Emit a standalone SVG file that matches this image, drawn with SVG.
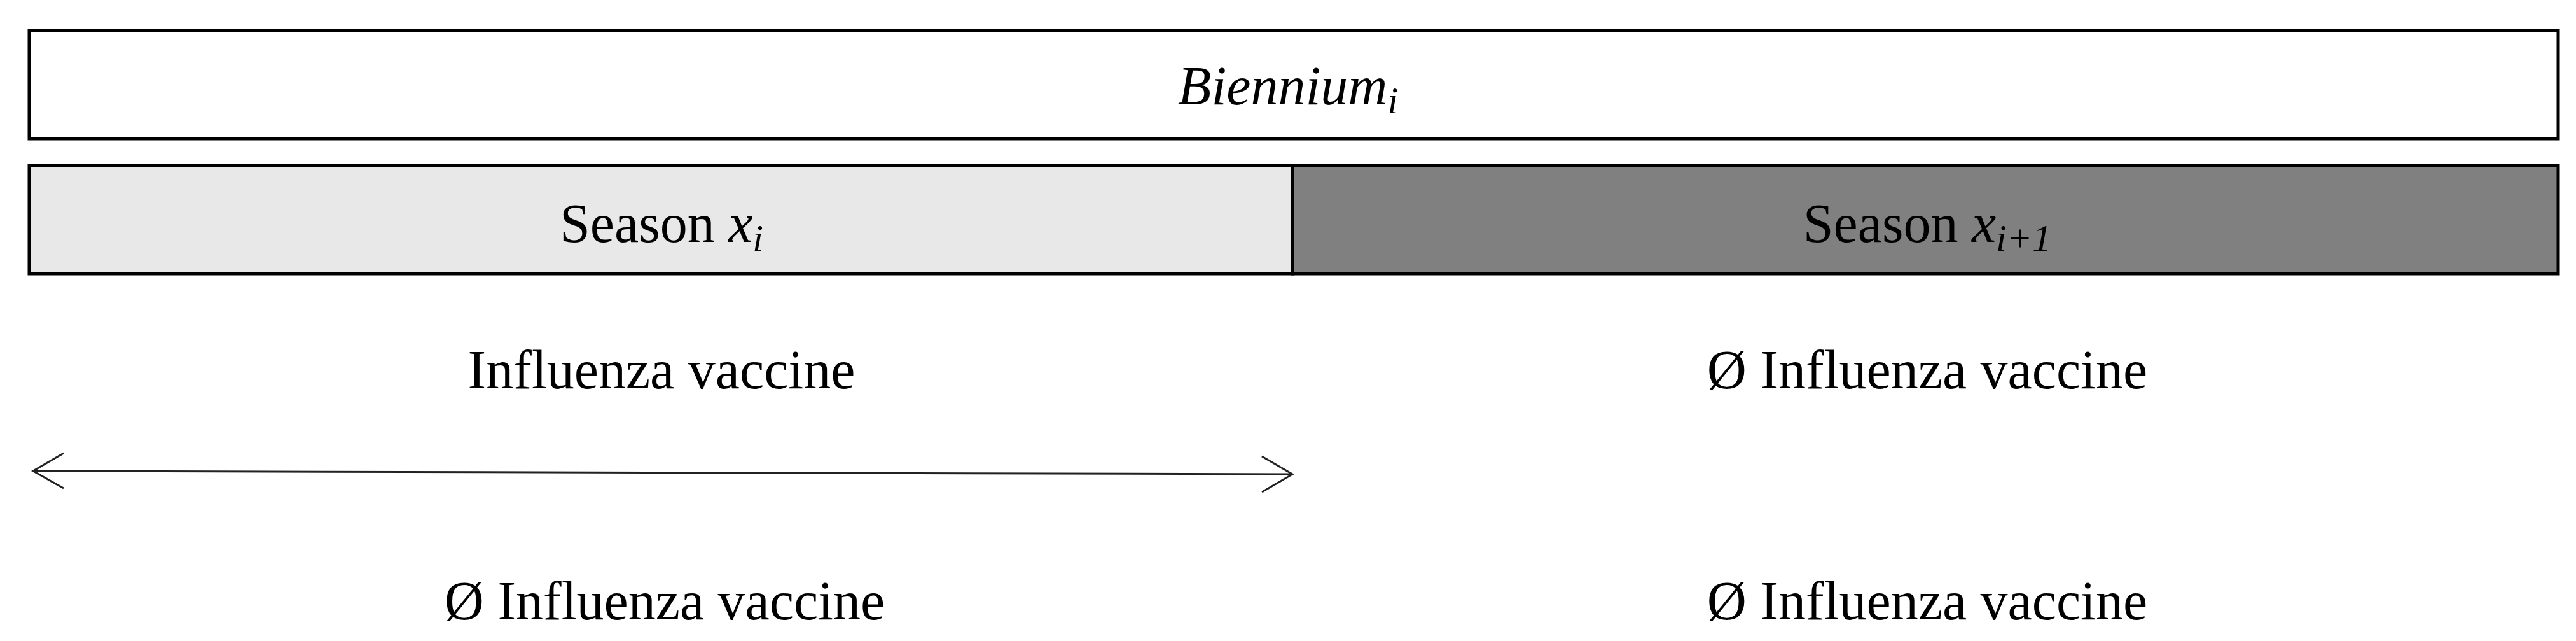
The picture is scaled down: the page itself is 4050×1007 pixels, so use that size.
<svg xmlns="http://www.w3.org/2000/svg" width="4050" height="1007" viewBox="0 0 4050 1007">
<style>
.box{stroke:#000;stroke-width:5}
.t{font-family:"Liberation Serif","Times New Roman",serif;font-size:86px;fill:#000;text-anchor:middle}
.m{font-style:italic}
.s{font-size:60px}
</style>
<rect width="4050" height="1007" fill="#fff"/>
<g id="biennium">
<rect class="box" x="46" y="48" width="3976" height="170" fill="#fff"/>
<text class="t" x="2025" y="164"><tspan class="m">Biennium</tspan><tspan class="m s" dy="14">i</tspan></text>
</g>
<g id="season1">
<rect class="box" x="46" y="260" width="1986" height="170" fill="#e8e8e8"/>
<text class="t" x="1040" y="380">Season <tspan class="m">x</tspan><tspan class="m s" dy="14">i</tspan></text>
</g>
<g id="season2">
<rect class="box" x="2032" y="260" width="1990" height="170" fill="#808080"/>
<text class="t" x="3030" y="380">Season <tspan class="m">x</tspan><tspan class="m s" dy="14">i+1</tspan></text>
</g>
<g id="labels">
<text class="t" x="1040" y="610">Influenza vaccine</text>
<text class="t" x="3030" y="610">Ø Influenza vaccine</text>
<text class="t" x="1045" y="973">Ø Influenza vaccine</text>
<text class="t" x="3030" y="973">Ø Influenza vaccine</text>
</g>
<g id="connectors" fill="none" stroke="#222" stroke-width="3">
<line x1="52" y1="740" x2="2032" y2="745"/>
<polyline points="100,712 52,740 100,767"/>
<polyline points="1984,717 2032,745 1984,773"/>
</g>
</svg>
